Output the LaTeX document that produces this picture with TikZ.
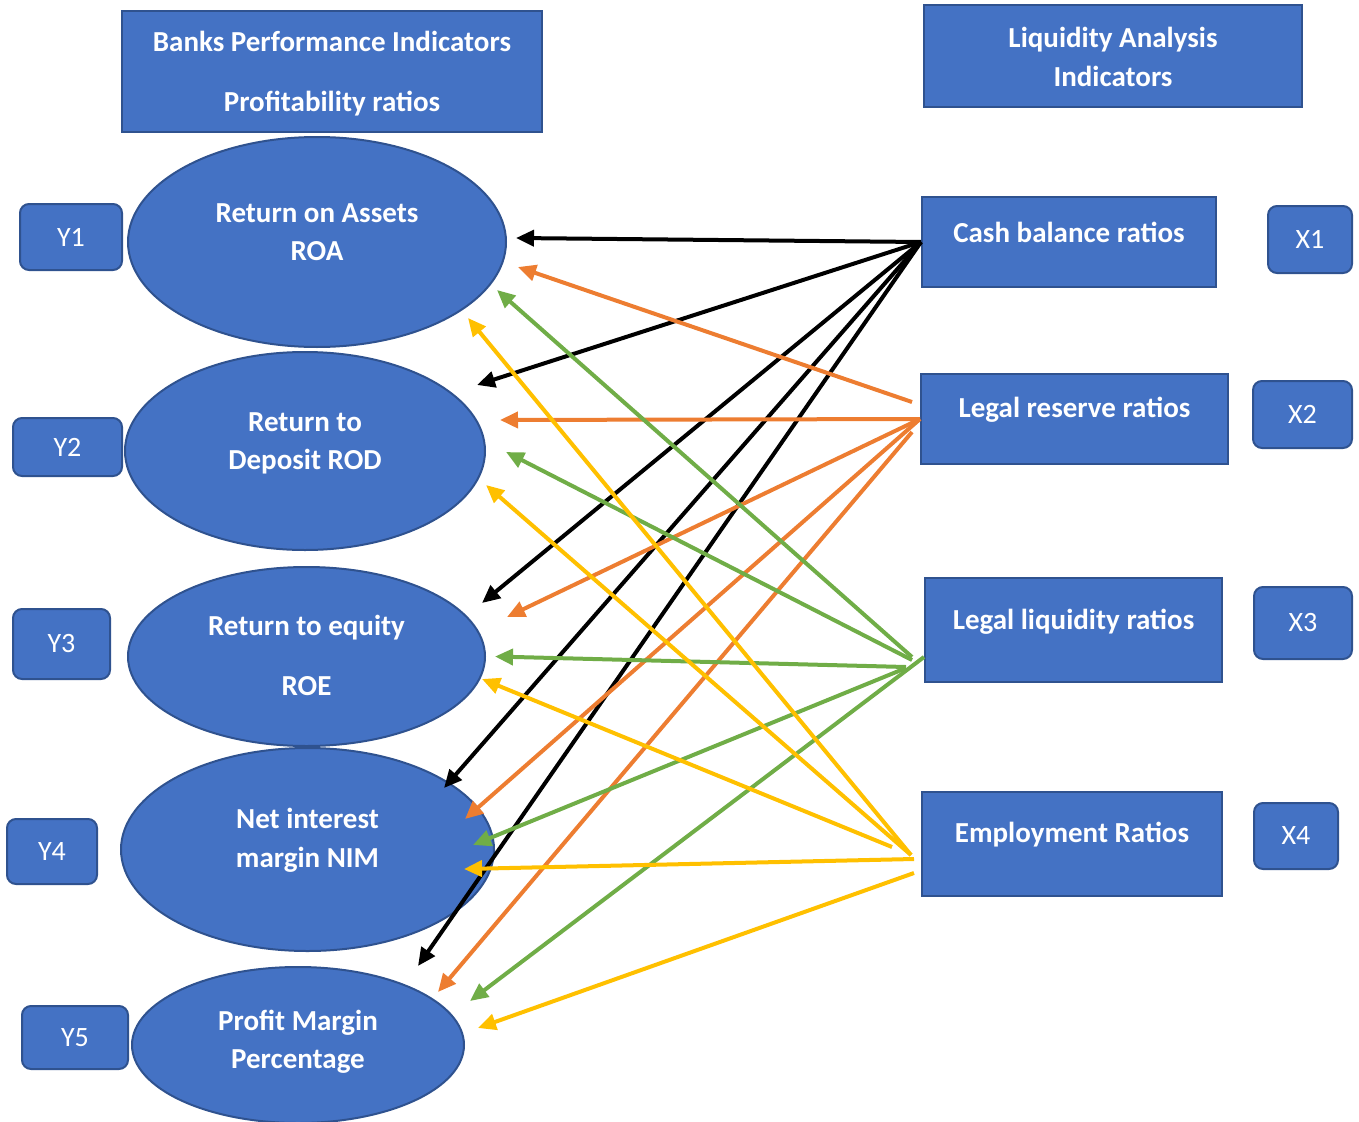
\documentclass[tikz,border=0pt]{standalone}
\usepackage{fontspec}
\setmainfont{Carlito}
\usetikzlibrary{arrows.meta,shapes.geometric}

\definecolor{fillblue}{HTML}{4472C4}
\definecolor{edgeblue}{HTML}{2F528F}
\definecolor{arrorange}{HTML}{ED7D31}
\definecolor{arrgreen}{HTML}{70AD47}
\definecolor{arryellow}{HTML}{FFC000}

\tikzset{
  box/.style={rectangle, fill=fillblue, draw=edgeblue, line width=2pt, inner sep=0pt},
  tag/.style={box, rounded corners=9pt, text=white, font=\fontsize{28}{34}\selectfont},
  ell/.style={ellipse, fill=fillblue, draw=edgeblue, line width=2pt, inner sep=0pt},
  lbl/.style={text=white, align=center, font=\bfseries\fontsize{29}{38.5}\selectfont},
  link/.style={line width=4pt, -{Triangle[length=18pt,width=16pt]}},
}

\begin{document}
\begin{tikzpicture}[x=1pt,y=-1pt]
                \useasboundingbox (0,0) rectangle (1359,1121);
                % headers
                \node [box, minimum width=420pt, minimum height=121pt] (perf) at (332,71.5) {};
                \node [lbl] (perf-t) at ([yshift=-2pt]perf) {Banks Performance Indicators\\[21.5pt]Profitability ratios};
                \node [box, minimum width=378pt, minimum height=102pt] (liqhead) at (1113,56) {};
                \node [lbl] (liqhead-t) at ([yshift=-1pt]liqhead) {Liquidity Analysis\\Indicators};
                % profitability ratios
                \node [ell, minimum width=378pt, minimum height=210pt] (roa) at (317,242) {};
                \node [lbl] (roa-t) at ([yshift=10pt]roa) {Return on Assets\\ROA};
                \node [ell, minimum width=360pt, minimum height=198pt] (rod) at (305,451) {};
                \node [lbl] (rod-t) at ([yshift=7.5pt]rod) {Return to\\Deposit ROD};
                \node [ell, minimum width=357pt, minimum height=179pt] (roe) at (306.5,656.5) {};
                \node [lbl] (roe-t) at ([yshift=1.5pt]roe) {Return to equity\\[21.5pt]ROE};
                \node [ell, minimum width=373pt, minimum height=203pt] (nim) at (307.5,849.5) {};
                \node [lbl] (nim-t) at ([yshift=9pt]nim) {Net interest\\margin NIM};
                \node [ell, minimum width=332pt, minimum height=156pt] (pmp) at (298,1045) {};
                \node [lbl] (pmp-t) at ([yshift=3.5pt]pmp) {Profit Margin\\Percentage};
                % liquidity ratios
                \node [box, minimum width=294pt, minimum height=90pt] (cash) at (1069,242) {};
                \node [lbl] (cash-t) at ([yshift=10pt]cash) {Cash balance ratios};
                \node [box, minimum width=307pt, minimum height=90pt] (res) at (1074.5,419) {};
                \node [lbl] (res-t) at ([yshift=9pt]res) {Legal reserve ratios};
                \node [box, minimum width=297pt, minimum height=104pt] (liq) at (1073.5,630) {};
                \node [lbl] (liq-t) at ([yshift=8pt]liq) {Legal liquidity ratios};
                \node [box, minimum width=300pt, minimum height=104pt] (emp) at (1072,844) {};
                \node [lbl] (emp-t) at ([yshift=9pt]emp) {Employment Ratios};
                % variable tags
                \node [tag, minimum width=102pt, minimum height=66pt] (y1) at (71,237) {Y1};
                \node [tag, minimum width=109pt, minimum height=58pt] (y2) at (67.5,447) {Y2};
                \node [tag, minimum width=97pt, minimum height=70pt] (y3) at (61.5,644) {Y3};
                \node [tag, minimum width=90pt, minimum height=65pt] (y4) at (52,851.5) {Y4};
                \node [tag, minimum width=106pt, minimum height=63pt] (y5) at (75,1037.5) {Y5};
                \node [tag, minimum width=84pt, minimum height=67pt] (x1) at (1310,239.5) {X1};
                \node [tag, minimum width=99pt, minimum height=67pt] (x2) at (1302.5,414.5) {X2};
                \node [tag, minimum width=98pt, minimum height=72pt] (x3) at (1303,623) {X3};
                \node [tag, minimum width=84pt, minimum height=66pt] (x4) at (1296,836) {X4};
                % cash balance
                \draw [link, black] (cash.west) -- ([shift={(9,-4)}]roa.east);
                \draw [link, black] (cash.west) -- ([shift={(-9,-66)}]rod.east);
                \draw [link, black] (cash.west) -- ([shift={(-4,-53.5)}]roe.east);
                \draw [link, black] (cash.west) -- ([shift={(-51,-61.5)}]nim.east);
                \draw [link, black] (cash.west) -- ([shift={(-47,-79)}]pmp.east);
                % legal reserve
                \draw [link, arrorange] ([shift={(-8,-17)}]res.west) -- ([shift={(11,25)}]roa.east);
                \draw [link, arrorange] (res.west) -- ([shift={(14,-31)}]rod.east);
                \draw [link, arrorange] (res.west) -- ([shift={(21,-39.5)}]roe.east);
                \draw [link, arrorange] (res.west) -- ([shift={(-30,-30.5)}]nim.east);
                \draw [link, arrorange] ([shift={(-8,13)}]res.west) -- ([shift={(-27,-53)}]pmp.east);
                % legal liquidity
                \draw [link, arrgreen] ([shift={(-12,27)}]liq.west) -- ([shift={(-10,48)}]roa.east);
                \draw [link, arrgreen] ([shift={(-12,30)}]liq.west) -- ([shift={(20,1)}]rod.east);
                \draw [link, arrgreen] ([shift={(-18,37)}]liq.west) -- ([shift={(9,0)}]roe.east);
                \draw [link, arrgreen] ([shift={(-18,38)}]liq.west) -- ([shift={(-22,-4.5)}]nim.east);
                \draw [link, arrgreen] ([shift={(0,27)}]liq.west) -- ([shift={(5,-44)}]pmp.east);
                % employment
                \draw [link, arryellow] ([shift={(-10,11)}]emp.west) -- ([shift={(-39,76)}]roa.east);
                \draw [link, arryellow] ([shift={(-10,11)}]emp.west) -- ([shift={(0,34)}]rod.east);
                \draw [link, arryellow] ([shift={(-29,3)}]emp.west) -- ([shift={(-4,22.5)}]roe.east);
                \draw [link, arryellow] ([shift={(-7,15)}]emp.west) -- ([shift={(-31,19.5)}]nim.east);
                \draw [link, arryellow] ([shift={(-7,29)}]emp.west) -- ([shift={(13,-17)}]pmp.east);
            \end{tikzpicture}
\end{document}
